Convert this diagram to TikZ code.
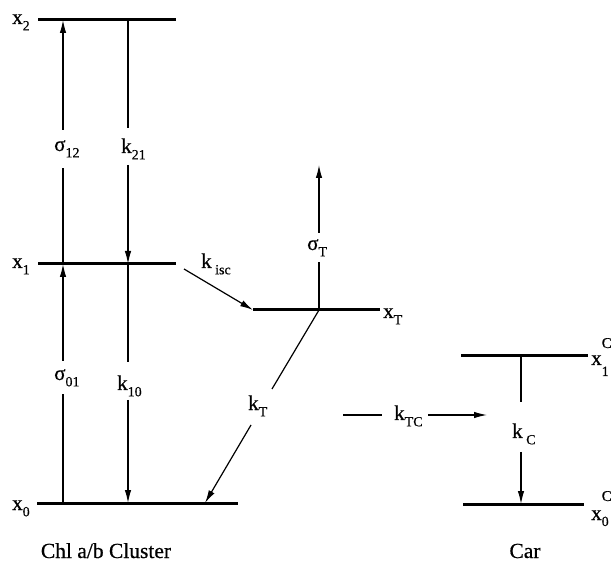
\documentclass[tikz,border=0pt]{standalone}
\usepackage{fontspec}
\setmainfont{Liberation Serif}[FakeBold=0.6]
\usetikzlibrary{arrows.meta}
\newcommand\lo[1]{\raisebox{-0.3em}{\fontsize{14}{14}\selectfont #1}}
\newcommand\lofar[2]{\raisebox{-#1}{\fontsize{14}{14}\selectfont #2}}
\newcommand\hi[2]{\rlap{\raisebox{#1}{\fontsize{15}{15}\selectfont #2}}}
\tikzset{
  level/.style={line width=3pt},
  trans/.style={line width=1.2pt},
  arr/.style={trans,-{Latex[length=13pt,width=6.5pt]}},
  lab/.style={anchor=base west,inner sep=0pt,font=\fontsize{21}{24}\selectfont},
  captext/.style={anchor=base,inner sep=0pt,font=\fontsize{21.5}{24}\selectfont}
}
\begin{document}
\begin{tikzpicture}[x=1pt,y=-1pt]
\useasboundingbox (0,0) rectangle (614,564);
% level endpoints
\coordinate (x2L) at (38,20);  \coordinate (x2R) at (176,20);
\coordinate (x1L) at (38,264); \coordinate (x1R) at (176,264);
\coordinate (x0L) at (37,503); \coordinate (x0R) at (238,503);
\coordinate (xTL) at (253,310); \coordinate (xTR) at (380,310);
\coordinate (c1L) at (461,356); \coordinate (c1R) at (588,356);
\coordinate (c0L) at (463,504); \coordinate (c0R) at (584,504);
% points on levels
\coordinate (x2a) at (63,20);  \coordinate (x2b) at (128,20);
\coordinate (x1a) at (63,264); \coordinate (x1b) at (128,264);
\coordinate (x0a) at (63,503); \coordinate (x0b) at (128,503);
\coordinate (x0c) at (205,503);
\coordinate (xTa) at (319,310);
\coordinate (c1a) at (521,356); \coordinate (c0a) at (521,504);
% gap ends
\coordinate (s12t) at (63,130); \coordinate (s12b) at (63,168);
\coordinate (k21t) at (128,128); \coordinate (k21b) at (128,165);
\coordinate (s01t) at (63,361); \coordinate (s01b) at (63,394);
\coordinate (k10t) at (128,362); \coordinate (k10b) at (128,400);
\coordinate (sTt) at (319,233); \coordinate (sTb) at (319,262);
\coordinate (sTe) at (319,165);
\coordinate (kTt) at (272,389); \coordinate (kTb) at (251,425);
\coordinate (kisc0) at (184,269);
\coordinate (kTC0) at (343,415); \coordinate (kTC1) at (382,415);
\coordinate (kTC2) at (428,415); \coordinate (kTC3) at (487,415);
\coordinate (kCt) at (521,402); \coordinate (kCb) at (521,452);

% levels
\draw[level] (x2L) -- (x2R);
\draw[level] (x1L) -- (x1R);
\draw[level] (x0L) -- (x0R);
\draw[level] (xTL) -- (xTR);
\draw[level] (c1L) -- (c1R);
\draw[level] (c0L) -- (c0R);

% transitions
\draw[trans] (x1a) -- (s12b);
\draw[arr] (s12t) -- (x2a);
\draw[trans] (x2b) -- (k21t);
\draw[arr] (k21b) -- (x1b);
\draw[trans] (x0a) -- (s01b);
\draw[arr] (s01t) -- (x1a);
\draw[trans] (x1b) -- (k10t);
\draw[arr] (k10b) -- (x0b);
\draw[arr] (kisc0) -- (xTL);
\draw[trans] (xTa) -- (sTb);
\draw[arr] (sTt) -- (sTe);
\draw[trans] (xTa) -- (kTt);
\draw[arr] (kTb) -- (x0c);
\draw[trans] (kTC0) -- (kTC1);
\draw[arr] (kTC2) -- (kTC3);
\draw[trans] (c1a) -- (kCt);
\draw[arr] (kCb) -- (c0a);

% labels
\node[lab] (lx2) at (12,24) {x\lo{2}};
\node[lab] (lx1) at (12,268) {x\lo{1}};
\node[lab] (lx0) at (12,510) {x\lo{0}};
\node[lab] (lxT) at (383,318) {x\lo{T}};
\node[lab] (lc1) at (591,365) {x\hi{17pt}{C}\lofar{11pt}{1}};
\node[lab] (lc0) at (591,520) {x\hi{19pt}{C}\lofar{6pt}{0}};
\node[lab] (ls12) at (54,151) {σ\lo{12}};
\node[lab] (lk21) at (121,153) {k\lo{21}};
\node[lab] (ls01) at (54,380) {σ\lo{01}};
\node[lab] (lk10) at (117,390) {k\lo{10}};
\node[lab] (lkisc) at (201,268) {k\,\lo{isc}};
\node[lab] (lsT) at (307,250) {σ\lo{T}};
\node[lab] (lkT) at (248,410) {k\lo{T}};
\node[lab] (lkTC) at (394,420) {k\lo{TC}};
\node[lab] (lkC) at (512,438) {k\,\lo{C}};
\node[captext] (chl) at (106,558) {Chl a/b Cluster};
\node[captext] (car) at (525,558) {Car};
\end{tikzpicture}
\end{document}
